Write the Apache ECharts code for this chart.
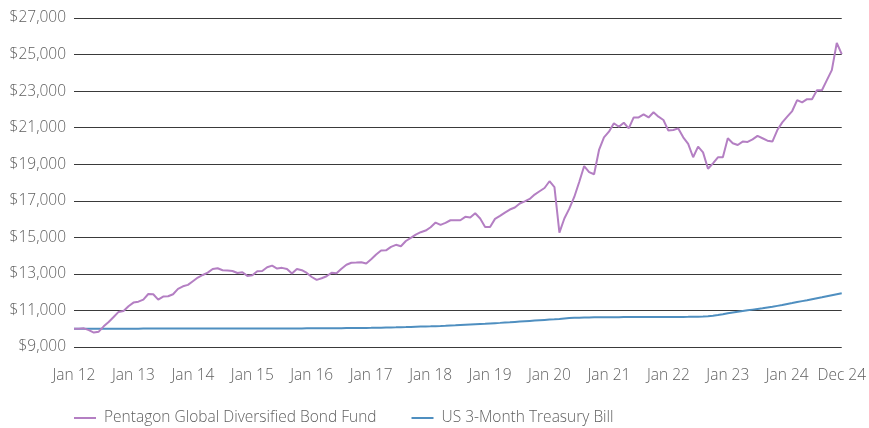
<!DOCTYPE html>
<html>
<head>
<meta charset="utf-8">
<script src="https://cdn.jsdelivr.net/npm/echarts@6/dist/echarts.min.js"></script>
<style>
  html, body { margin: 0; padding: 0; background: #fff; }
  #chart { width: 869px; height: 428px; }
</style>
</head>
<body>
<div id="chart"></div>
<script>
// month names for the category axis, Jan 12 .. Dec 24
const monthNames = ['Jan', 'Feb', 'Mar', 'Apr', 'May', 'Jun', 'Jul', 'Aug', 'Sep', 'Oct', 'Nov', 'Dec'];
const years = ['12', '13', '14', '15', '16', '17', '18', '19', '20', '21', '22', '23', '24'];
const tickLabels = ['Jan 12', 'Jan 13', 'Jan 14', 'Jan 15', 'Jan 16', 'Jan 17', 'Jan 18',
  'Jan 19', 'Jan 20', 'Jan 21', 'Jan 22', 'Jan 23', 'Jan 24', 'Dec 24'];

const seriesNames = ['Pentagon Global Diversified Bond Fund', 'US 3-Month Treasury Bill'];

// growth of $10,000, monthly
const fundValues = [
  10000, 10000, 10020, 9920, 9790, 9840, 10130, 10370, 10640, 10920, 10970, 11230,
  11430, 11480, 11590, 11900, 11885, 11590, 11760, 11775, 11885, 12180, 12320, 12400,
  12600, 12800, 12940, 13070, 13270, 13310, 13200, 13180, 13160, 13050, 13090, 12890,
  12925, 13150, 13160, 13360, 13450, 13290, 13330, 13270, 13020, 13270, 13200, 13050,
  12830, 12670, 12760, 12870, 13060, 13030, 13280, 13500, 13610, 13620, 13640, 13570,
  13800, 14060, 14280, 14290, 14480, 14590, 14510, 14800, 14970, 15150, 15280, 15370,
  15550, 15810, 15680, 15790, 15935, 15935, 15935, 16120, 16080, 16320, 16030, 15570,
  15570, 16010, 16170, 16350, 16520, 16630, 16850, 16970, 17100, 17340, 17520, 17700,
  18070, 17750, 15260, 16030, 16570, 17210, 18030, 18900, 18570, 18450, 19780, 20470,
  20780, 21240, 21050, 21270, 20960, 21560, 21560, 21730, 21560, 21840, 21600, 21420,
  20840, 20870, 20960, 20470, 20110, 19380, 19960, 19650, 18750, 19050, 19380, 19380,
  20420, 20150, 20050, 20240, 20220, 20360, 20550, 20420, 20290, 20240, 20870, 21290,
  21600, 21910, 22510, 22380, 22560, 22560, 23050, 23050, 23600, 24150, 25640, 25020
];

const tbillValues = [
  10000, 10000, 10000, 10000, 10001, 10001, 10002, 10002, 10003, 10003, 10004, 10004,
  10005, 10005, 10006, 10006, 10006, 10007, 10007, 10008, 10008, 10008, 10009, 10009,
  10009, 10010, 10010, 10010, 10011, 10011, 10011, 10012, 10012, 10012, 10013, 10013,
  10013, 10014, 10014, 10014, 10015, 10015, 10016, 10016, 10017, 10017, 10018, 10019,
  10020, 10022, 10024, 10026, 10028, 10030, 10032, 10034, 10036, 10039, 10042, 10046,
  10050, 10055, 10060, 10066, 10072, 10078, 10085, 10092, 10100, 10108, 10116, 10124,
  10132, 10142, 10152, 10163, 10175, 10187, 10200, 10214, 10228, 10242, 10257, 10272,
  10288, 10304, 10320, 10337, 10354, 10372, 10390, 10408, 10426, 10444, 10462, 10480,
  10498, 10515, 10535, 10560, 10580, 10595, 10605, 10612, 10618, 10622, 10625, 10628,
  10630, 10632, 10634, 10636, 10637, 10638, 10639, 10640, 10641, 10642, 10643, 10644,
  10645, 10646, 10647, 10648, 10650, 10653, 10658, 10668, 10685, 10712, 10745, 10790,
  10845, 10885, 10925, 10965, 11005, 11045, 11085, 11120, 11160, 11200, 11250, 11300,
  11355, 11405, 11460, 11510, 11560, 11615, 11670, 11720, 11775, 11830, 11885, 11940
];

const months = [];
years.forEach(y => monthNames.forEach(m => months.push(m + ' ' + y)));

const chart = echarts.init(document.getElementById('chart'));

const labelFont = {
  fontFamily: '"Open Sans", sans-serif',
  fontSize: 15.5,
  fontWeight: 300,
  color: '#5f5f5f'
};

let option = {
  animation: false,
  color: ['#b47fc3', '#4f8fc0'],
  grid: {
    left: 74,
    right: 20,
    top: 18,
    bottom: 81
  },
  legend: {
    left: 74,
    top: 410,
    padding: 0,
    itemWidth: 22,
    itemHeight: 2,
    itemGap: 35,
    icon: 'rect',
    textStyle: Object.assign({ padding: [0, 0, 0, 3] }, labelFont),
    data: seriesNames
  },
  xAxis: {
    type: 'category',
    boundaryGap: false,
    data: months,
    axisLine: { show: false },
    axisTick: { show: false },
    axisLabel: Object.assign({
      margin: 21,
      interval: (i, v) => tickLabels.indexOf(v) >= 0 && (i % 12 === 0 || i === months.length - 1)
    }, labelFont)
  },
  yAxis: {
    type: 'value',
    min: 9000,
    max: 27000,
    interval: 2000,
    axisLine: { show: false },
    axisTick: { show: false },
    axisLabel: Object.assign({
      margin: 8,
      formatter: v => '$' + v.toLocaleString('en-US')
    }, labelFont),
    splitLine: { lineStyle: { color: '#3a3a3a', width: 1.2 } }
  },
  series: [
    {
      name: seriesNames[0],
      type: 'line',
      data: fundValues,
      showSymbol: false,
      lineStyle: { width: 2 },
      z: 3
    },
    {
      name: seriesNames[1],
      type: 'line',
      data: tbillValues,
      showSymbol: false,
      lineStyle: { width: 2 },
      z: 2
    }
  ]
};

chart.setOption(option);
</script>
</body>
</html>
